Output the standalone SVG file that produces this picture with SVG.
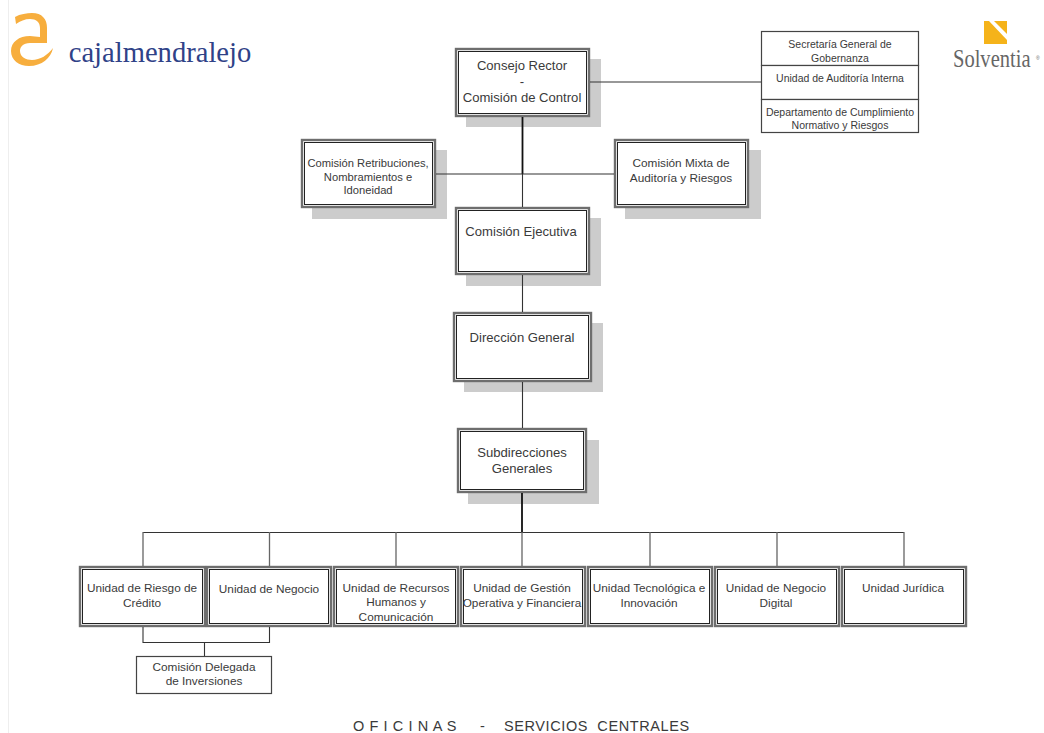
<svg xmlns="http://www.w3.org/2000/svg" width="1044" height="733" viewBox="0 0 1044 733">
<style>
text{font-family:"Liberation Sans",Arial,sans-serif;fill:#3a3a3a;text-anchor:middle}
.f13{font-size:13.100px}.f12{font-size:11.800px}.f11{font-size:11.200px}.f10{font-size:10.500px}
.sh{fill:#ccc}
.o{fill:#fff;stroke:#6e6e6e;stroke-width:2.400}
.i{fill:#fff;stroke:#222;stroke-width:1}
.b{fill:#fff;stroke:#444;stroke-width:1.200}
.c{fill:none;stroke:#333;stroke-width:1.100}
.g{fill:none;stroke:#666;stroke-width:1.300}
.t{fill:none;stroke:#111;stroke-width:1.800}
</style>
<rect width="1044" height="733" fill="#fff"/>
<path d="M8.500 0V733" stroke="#eee" fill="none"/>
<g id="logo-left">
<path d="M15 17C20 14 27 13 32 13C42 13 47 19 47 28V43H30C23 43 20 47 20 51C20 57 26 60 32 60C40 60 48 55 53 48C51 58 42 66 29 66C19 66 11 60 11 51C11 42 19 36 30 36L40 37V28C40 22 36 19 30 19C25 19 20 21 16 24Z" fill="#f7ae3e"/>
<text x="160" y="62" style="font-family:'Liberation Serif',serif;font-size:28.600px;fill:#2f4288">cajalmendralejo</text>
</g>
<g id="logo-right">
<path d="M984 21H1007V44H984Z" fill="#f5b31a"/>
<path d="M989 21H994L1007 34V40Z" fill="#fff"/>
<text transform="translate(953 67) scale(.79 1)" style="font-family:'Liberation Serif',serif;font-size:26px;fill:#666;text-anchor:start">Solventia</text>
<text x="1036" y="60" style="font-size:5px;fill:#666;text-anchor:start">®</text>
</g>
<g id="n-consejo"><rect class="sh" x="466" y="59" width="135" height="68"/><rect class="o" x="456" y="49" width="133" height="67"/><rect class="i" x="458.500" y="51.500" width="128" height="62"/>
<text class="f13" x="522" y="70">Consejo Rector</text><text class="f13" x="522" y="86">-</text><text class="f13" x="522" y="102">Comisión de Control</text></g>
<g id="n-retrib"><rect class="sh" x="312" y="150" width="135" height="69"/><rect class="o" x="302" y="140" width="133" height="67"/><rect class="i" x="304.500" y="142.500" width="128" height="62"/>
<text class="f11" x="368" y="167">Comisión Retribuciones,</text><text class="f11" x="368" y="181">Nombramientos e</text><text class="f11" x="368" y="194">Idoneidad</text></g>
<g id="n-mixta"><rect class="sh" x="625" y="150" width="136" height="69"/><rect class="o" x="615" y="140" width="133" height="67"/><rect class="i" x="617.500" y="142.500" width="128" height="62"/>
<text class="f12" x="681" y="167">Comisión Mixta de</text><text class="f12" x="681" y="182">Auditoría y Riesgos</text></g>
<g id="n-ejecutiva"><rect class="sh" x="466" y="218" width="135" height="68"/><rect class="o" x="456" y="208" width="133" height="66"/><rect class="i" x="458.500" y="210.500" width="128" height="61"/>
<text class="f13" x="521" y="236">Comisión Ejecutiva</text></g>
<g id="n-direccion"><rect class="sh" x="464" y="323" width="139" height="69"/><rect class="o" x="454" y="313" width="137" height="68"/><rect class="i" x="456.500" y="315.500" width="132" height="63"/>
<text class="f13" x="522" y="342">Dirección General</text></g>
<g id="n-subdir"><rect class="sh" x="468" y="440" width="131" height="64"/><rect class="o" x="458" y="429" width="128" height="63"/><rect class="i" x="460.500" y="431.500" width="123" height="58"/>
<text class="f13" x="522" y="457">Subdirecciones</text><text class="f13" x="522" y="473">Generales</text></g>
<g id="n-secretaria"><rect class="b" x="761.500" y="31.500" width="157" height="34"/><text class="f10" x="840" y="48">Secretaría General de</text><text class="f10" x="840" y="62">Gobernanza</text></g>
<g id="n-auditoria"><rect class="b" x="761.500" y="65.500" width="157" height="34"/><text class="f10" x="840" y="82">Unidad de Auditoría Interna</text></g>
<g id="n-cumplimiento"><rect class="b" x="761.500" y="99.500" width="157" height="33"/><text class="f10" x="840" y="116">Departamento de Cumplimiento</text><text class="f10" x="840" y="129">Normativo y Riesgos</text></g>
<g id="n-riesgo"><rect class="o" x="80" y="567" width="125" height="59"/><rect class="i" x="82.500" y="569.500" width="120" height="54"/><text class="f12" x="142" y="592">Unidad de Riesgo de</text><text class="f12" x="142" y="607">Crédito</text></g>
<g id="n-negocio"><rect class="o" x="207" y="567" width="124" height="59"/><rect class="i" x="209.500" y="569.500" width="119" height="54"/><text class="f12" x="269" y="593">Unidad de Negocio</text></g>
<g id="n-rrhh"><rect class="o" x="334" y="567" width="124" height="59"/><rect class="i" x="336.500" y="569.500" width="119" height="54"/><text class="f12" x="396" y="592">Unidad de Recursos</text><text class="f12" x="396" y="606">Humanos y</text><text class="f12" x="396" y="621">Comunicación</text></g>
<g id="n-gestion"><rect class="o" x="461" y="567" width="124" height="59"/><rect class="i" x="463.500" y="569.500" width="119" height="54"/><text class="f12" x="522" y="592">Unidad de Gestión</text><text class="f12" x="522" y="607">Operativa y Financiera</text></g>
<g id="n-tecno"><rect class="o" x="588" y="567" width="124" height="59"/><rect class="i" x="590.500" y="569.500" width="119" height="54"/><text class="f12" x="649" y="592">Unidad Tecnológica e</text><text class="f12" x="649" y="607">Innovación</text></g>
<g id="n-digital"><rect class="o" x="715" y="567" width="124" height="59"/><rect class="i" x="717.500" y="569.500" width="119" height="54"/><text class="f12" x="776" y="592">Unidad de Negocio</text><text class="f12" x="776" y="607">Digital</text></g>
<g id="n-juridica"><rect class="o" x="842" y="567" width="124" height="59"/><rect class="i" x="844.500" y="569.500" width="119" height="54"/><text class="f12" x="903" y="592">Unidad Jurídica</text></g>
<g id="n-delegada"><rect class="b" x="136.500" y="656.500" width="135" height="37"/><text class="f12" x="204" y="671">Comisión Delegada</text><text class="f12" x="204" y="685">de Inversiones</text></g>
<g id="connectors">
<path class="t" d="M522.500 117V174M522 493V533"/>
<path class="c" d="M522.500 174V207M522.500 275V312M522.500 382V428"/>
<path class="c" d="M436 174H614M590 82H761M143 532.500H904"/>
<path class="g" d="M143 532V566M269.500 532V566M396 532V566M522 532V566M650 532V566M777 532V566M904 532V566"/>
<path class="c" d="M143 627V642.500H269.500V627M204.500 642V656"/>
</g>
<text x="353" y="731" style="font-size:14.500px;letter-spacing:.6px;text-anchor:start;white-space:pre">O F I C I N A S<tspan x="480">-</tspan><tspan x="504">SERVICIOS  CENTRALES</tspan></text>
</svg>
